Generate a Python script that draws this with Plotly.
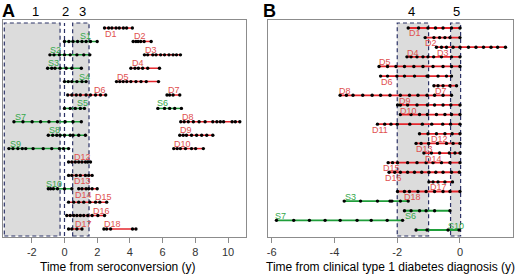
import plotly.graph_objects as go

# ---------------- Panel A: time from seroconversion (y) ----------------
A_D1 = [2.45, 2.7, 2.9, 3.15, 3.35, 3.6, 3.8, 4.15]
A_S1 = [0.0, 0.27, 0.52, 0.8, 1.07, 1.32, 1.59, 2.0]
A_D2 = [4.2, 4.37, 4.5, 4.66, 4.87, 5.3]
A_S2 = [-0.89, -0.64, -0.31, 0.0, 0.35, 0.76, 1.18, 1.55]
A_D3 = [4.89, 5.09, 5.4, 5.6, 5.88, 6.12, 6.39, 6.64, 6.85, 7.09]
A_S3 = [-1.03, -0.78, -0.58, -0.27, 0.1, 0.45, 1.03]
A_D4 = [4.06, 4.31, 4.52, 4.78, 5.09, 5.81]
A_S4 = [0.0, 0.23, 0.45, 0.76, 1.07, 1.32]
A_D5 = [3.18, 3.38, 3.59, 3.81, 4.06, 4.37, 4.68, 5.0, 5.75]
A_D6 = [0.2, 0.45, 0.72, 0.97, 1.32, 1.59, 1.9, 2.2, 2.52]
A_D7 = [6.27, 6.43, 6.64, 7.05]
A_S5 = [0.0, 0.35, 0.66, 0.97, 1.22]
A_S6 = [5.71, 6.12, 6.43, 6.74, 7.15]
A_S7 = [-3.09, -2.54, -1.98, -1.46, -0.95, -0.43, 0.04, 0.52, 1.03]
A_D8 = [7.11, 7.32, 7.57, 7.88, 8.23, 8.6, 9.07, 9.32, 9.53, 9.73, 10.25, 10.45, 10.72]
A_S8 = [-0.99, -0.72, -0.47, -0.27, 0.0, 0.35, 0.52, 0.87, 1.28]
A_D9 = [7.05, 7.26, 7.46, 7.77, 8.08, 8.39, 8.7, 9.07]
A_S9 = [-3.4, -3.15, -2.85, -2.58, -2.37, -1.92, -1.3, -0.78, -0.31, -0.06, 0.25]
A_D10 = [6.68, 6.89, 7.09, 7.4, 7.77, 8.02, 8.49]
A_D12 = [0.25, 0.45, 0.66, 0.87, 1.07, 1.28, 1.42, 1.59]
A_D13 = [0.25, 0.45, 0.72, 0.97, 1.28, 1.48, 1.69]
A_S10 = [-0.99, -0.85, -0.68, -0.43, 0.0, 0.45]
A_D14 = [0.87, 1.07, 1.32, 1.48, 1.69, 2.0]
A_D15 = [0.25, 0.56, 0.87, 1.18, 1.55, 1.9, 2.16, 2.58]
A_D16 = [0.14, 0.35, 0.56, 0.76, 0.97, 1.18, 1.42, 1.69, 2.04, 2.45]
A_D17 = [0.25, 0.45, 0.76, 1.07]
A_D18 = [2.41, 2.58, 2.82, 4.16, 4.37]

# row (top = 1) of each subject in panel A
A_rows = {"D1": 1, "S1": 2, "D2": 2, "S2": 3, "D3": 3, "S3": 4, "D4": 4,
          "S4": 5, "D5": 5, "D6": 6, "D7": 6, "S5": 7, "S6": 7, "S7": 8,
          "D8": 8, "S8": 9, "D9": 9, "S9": 10, "D10": 10, "D12": 11,
          "D13": 12, "S10": 13, "D14": 13, "D15": 14, "D16": 15, "D17": 16,
          "D18": 16}
A_data = {"D1": A_D1, "S1": A_S1, "D2": A_D2, "S2": A_S2, "D3": A_D3,
          "S3": A_S3, "D4": A_D4, "S4": A_S4, "D5": A_D5, "D6": A_D6,
          "D7": A_D7, "S5": A_S5, "S6": A_S6, "S7": A_S7, "D8": A_D8,
          "S8": A_S8, "D9": A_D9, "S9": A_S9, "D10": A_D10, "D12": A_D12,
          "D13": A_D13, "S10": A_S10, "D14": A_D14, "D15": A_D15,
          "D16": A_D16, "D17": A_D17, "D18": A_D18}

# ---------------- Panel B: time from clinical T1D diagnosis (y) ----------------
B_D1 = [-1.65, -1.32, -1.02, -0.78, -0.54, -0.27, 0.0]
B_D2 = [-1.11, -0.83, -0.65, -0.48, -0.32, 0.0]
B_D3 = [-0.75, -0.59, -0.43, -0.22, 0.0, 0.27, 0.51, 0.75, 0.99, 1.2, 1.45]
B_D4 = [-1.69, -1.56, -1.37, -1.18, -1.02, -0.84, -0.59, -0.27, 0.0]
B_D5 = [-2.58, -2.31, -2.04, -1.77, -1.47, -1.18, -0.86, -0.54, -0.27, 0.0]
B_D6 = [-2.53, -2.31, -2.01, -1.77, -1.45, -1.05, -1.02, -0.7, -0.43, -0.27]
B_D7 = [-0.83, -0.7, -0.54, -0.32, -0.11]
B_D8 = [-3.82, -3.62, -3.41, -3.1, -2.8, -2.53, -2.23, -1.9, -1.61, -1.34,
        -1.05, -0.81, -0.54, -0.27]
B_D9 = [-1.99, -1.9, -1.67, -1.37, -1.04, -0.81, -0.54, -0.29, 0.0]
B_D10 = [-1.9, -1.56, -1.29, -1.04, -0.75, -0.48, -0.27, 0.0]
B_D11 = [-2.63, -2.4, -2.2, -2.0, -1.6, -1.2, -0.9, -0.55, -0.3, 0.0]
B_D12 = [-1.29, -1.02, -0.75, -0.48, -0.25, 0.0]
B_D13 = [-1.4, -1.24, -1.0, -0.72, -0.43, -0.22, 0.0]
B_D14 = [-1.15, -0.91, -0.65, -0.34, -0.16, 0.0]
B_D15 = [-2.29, -2.15, -1.99, -1.67, -1.37, -1.08, -0.86, -0.59, -0.32, 0.0]
B_D16 = [-2.26, -2.08, -1.9, -1.67, -1.45, -1.22, -0.99, -0.77, -0.54, -0.27, -0.02]
B_D17 = [-0.99, -0.86, -0.7, -0.48, -0.24]
B_D18 = [-1.99, -1.77, -1.61, -1.34, -1.08, -0.81, -0.54, -0.32, 0.0]
B_S3 = [-3.69, -3.17, -2.63, -2.23, -2.17, -1.9, -1.65]
B_S6 = [-1.77, -1.56, -1.29, -1.08, -0.81, -0.32]
B_S7 = [-5.85, -5.3, -4.8, -4.3, -3.82, -3.28, -2.83, -2.32, -1.83]
B_S10 = [-1.4, -1.05, -0.38, -0.03]

B_order = ["D1", "D2", "D3", "D4", "D5", "D6", "D7", "D8", "D9", "D10", "D11",
           "D12", "D13", "D14", "D15", "D16", "D17", "D18", "S3", "S6", "S7", "S10"]
B_data = {"D1": B_D1, "D2": B_D2, "D3": B_D3, "D4": B_D4, "D5": B_D5,
          "D6": B_D6, "D7": B_D7, "D8": B_D8, "D9": B_D9, "D10": B_D10,
          "D11": B_D11, "D12": B_D12, "D13": B_D13, "D14": B_D14,
          "D15": B_D15, "D16": B_D16, "D17": B_D17, "D18": B_D18,
          "S3": B_S3, "S6": B_S6, "S7": B_S7, "S10": B_S10}
B_rows = {name: i + 1 for i, name in enumerate(B_order)}

A_ticks = [-2, 0, 2, 4, 6, 8, 10]
B_ticks = [-6, -4, -2, 0]

# ---------------- label placement (left edge in data units, above/below) ----------------
A_labels = {"D1": (2.41, "b"), "S1": (0.87, "a"), "D2": (4.2, "a"), "S2": (-0.93, "a"),
            "D3": (4.89, "a"), "S3": (-1.09, "a"), "D4": (4.06, "a"), "S4": (0.82, "a"),
            "D5": (3.18, "a"), "D6": (1.75, "a"), "D7": (6.27, "a"), "S5": (0.72, "a"),
            "S6": (5.57, "a"), "S7": (-3.09, "a"), "D8": (7.15, "a"), "S8": (-1.03, "a"),
            "D9": (7.0, "a"), "S9": (-3.4, "a"), "D10": (6.64, "a"), "D12": (0.52, "a"),
            "D13": (0.52, "b"), "S10": (-1.2, "a"), "D14": (0.56, "b"), "D15": (1.8, "a"),
            "D16": (1.69, "a"), "D17": (0.56, "a"), "D18": (2.37, "a")}
B_labels = {"D1": (-1.67, "b"), "D2": (-1.15, "b"), "D3": (-0.75, "b"), "D4": (-1.72, "a"),
            "D5": (-2.6, "a"), "D6": (-2.55, "b"), "D7": (-0.83, "b"), "D8": (-3.9, "a"),
            "D9": (-1.97, "a"), "D10": (-1.94, "a"), "D11": (-2.85, "b"), "D12": (-0.95, "b"),
            "D13": (-1.45, "b"), "D14": (-1.15, "b"), "D15": (-2.49, "b"), "D16": (-2.42, "b"),
            "D17": (-1.0, "b"), "D18": (-1.83, "b"), "S3": (-3.71, "a"), "S6": (-1.8, "b"),
            "S7": (-5.94, "a"), "S10": (-0.4, "a")}

RED_LINE = "#e5262c"
GREEN_LINE = "#1f9e3a"
RED_TEXT = "#e0504f"
GREEN_TEXT = "#35a84a"
FONT = "Arial, Liberation Sans, sans-serif"

W, H = 520, 275
fig = go.Figure()
annotations = []


def add_panel(data, rows, labels, xa, ya, lw, up, down):
    for name, xs in data.items():
        color = GREEN_LINE if name.startswith("S") else RED_LINE
        fig.add_trace(go.Scatter(
            x=xs, y=[rows[name]] * len(xs), xaxis=xa, yaxis=ya,
            mode="lines+markers", line=dict(color=color, width=lw),
            marker=dict(color="black", size=3.4), showlegend=False,
            hoverinfo="skip"))
        lx, pos = labels[name]
        annotations.append(dict(
            x=lx, y=rows[name], xref=xa, yref=ya, text=name, showarrow=False,
            xanchor="left", yanchor="middle", borderpad=0,
            yshift=up if pos == "a" else -down,
            font=dict(family=FONT, size=9,
                      color=GREEN_TEXT if name.startswith("S") else RED_TEXT)))


add_panel(A_data, A_rows, A_labels, "x", "y", 1.5, 5, 6)
add_panel(B_data, B_rows, B_labels, "x2", "y2", 1.8, 4, 5.5)

# shaded windows
BOX_Y0 = 1 - 236 / H
BOX_Y1 = 1 - 23 / H
DASH = "4px,3px"
BOX_LINE = "#2b3266"
shapes = []
for xr, x0, x1 in [("x", -3.68, -0.27), ("x", 0.5, 1.5), ("x2", -2.0, -1.0), ("x2", -0.3, 0.02)]:
    shapes.append(dict(type="rect", xref=xr, yref="paper", x0=x0, x1=x1,
                       y0=BOX_Y0, y1=BOX_Y1, fillcolor="#dcdcdc", layer="below",
                       line=dict(color=BOX_LINE, width=1.2, dash=DASH)))
shapes.append(dict(type="line", xref="x", yref="paper", x0=0, x1=0,
                   y0=BOX_Y0, y1=BOX_Y1, layer="below",
                   line=dict(color=BOX_LINE, width=1.2, dash=DASH)))

# window labels
for xr, xv, t in [("x", -1.8, "1"), ("x", 0.06, "2"), ("x", 1.11, "3"),
                  ("x2", -1.53, "4"), ("x2", -0.1, "5")]:
    annotations.append(dict(x=xv, y=1 - 11.5 / H, xref=xr, yref="paper", text=t,
                            showarrow=False, xanchor="center", yanchor="middle",
                            font=dict(family=FONT, size=13, color="black")))

# panel letters
for px, t in [(8.5, "A"), (269, "B")]:
    annotations.append(dict(x=px / W, y=1.0, xref="paper", yref="paper",
                            text="<b>%s</b>" % t, showarrow=False, borderpad=0,
                            xanchor="center", yanchor="top",
                            font=dict(family=FONT, size=18, color="black")))

# axis titles
for px, t in [(118, "Time from seroconversion (y)"),
              (390.5, "Time from clinical type 1 diabetes diagnosis (y)")]:
    annotations.append(dict(x=px / W, y=1 - 266.5 / H, xref="paper", yref="paper",
                            text=t, showarrow=False, xanchor="center", yanchor="middle",
                            font=dict(family=FONT, size=12, color="black")))

FRAME = "#8c8c8c"
y_dom = [1 - 237 / H, 1 - 20 / H]
common_x = dict(showgrid=False, zeroline=False, showline=True, mirror=True,
                linecolor=FRAME, linewidth=1.3, ticks="outside", ticklen=5,
                tickcolor=FRAME, tickwidth=1,
                tickfont=dict(family=FONT, size=11, color="#333333"))
common_y = dict(showgrid=False, zeroline=False, showline=True, mirror=True,
                linecolor=FRAME, linewidth=1.3, showticklabels=False, ticks="")

fig.update_layout(
    width=W, height=H, margin=dict(l=0, r=0, t=0, b=0),
    paper_bgcolor="white", plot_bgcolor="white",
    xaxis=dict(domain=[3 / W, 246 / W], range=[-3.76, 11.1], anchor="y",
               tickvals=A_ticks, ticktext=[str(v) for v in A_ticks], **common_x),
    yaxis=dict(domain=y_dom, range=[16.6, 0.4], anchor="x", **common_y),
    xaxis2=dict(domain=[268 / W, 513 / W], range=[-6.12, 1.69], anchor="y2",
                tickvals=B_ticks, ticktext=[str(v) for v in B_ticks], **common_x),
    yaxis2=dict(domain=y_dom, range=[22.73, 0.17], anchor="x2", **common_y),
    shapes=shapes, annotations=annotations,
)

fig.write_html("out.html", config={"displayModeBar": False},
               post_script="document.body.style.margin='0';document.body.style.overflow='hidden';")
